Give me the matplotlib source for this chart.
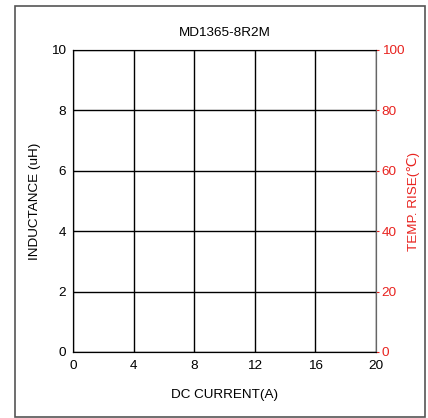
import matplotlib.pyplot as plt
from matplotlib.patches import Rectangle

plt.rcParams['font.family'] = ['Liberation Sans', 'DejaVu Sans']

title = "MD1365-8R2M"
x_ticks = [0, 4, 8, 12, 16, 20]
y_ticks = [0, 2, 4, 6, 8, 10]
temp_ticks = [0, 20, 40, 60, 80, 100]

W, H = 428, 418
fs = 9.7
fig = plt.figure(figsize=(W / 100, H / 100), dpi=100)

# outer frame
fig.patches.append(Rectangle((15 / W, 1 - 417 / H), 410 / W, 411 / H,
                             transform=fig.transFigure, fill=False,
                             edgecolor="#555555", linewidth=1.2))

ax = fig.add_axes([73 / W, 1 - 352 / H, 303 / W, 302 / H])
ax.set_xlim(0, 20)
ax.set_ylim(0, 10)
ax.set_xticks(x_ticks)
ax.set_yticks(y_ticks)
ax.grid(True, color="black", linewidth=1.0)
ax.tick_params(axis="both", length=0, labelsize=fs)
ax.tick_params(axis="x", pad=6)
ax.tick_params(axis="y", pad=5)
for s in ["left", "bottom"]:
    ax.spines[s].set_color("black")
for s in ["top", "right"]:
    ax.spines[s].set_color("#666666")
ax.set_xlabel("DC CURRENT(A)", fontsize=fs, labelpad=12)
ax.set_ylabel("INDUCTANCE (uH)", fontsize=fs, labelpad=7)
ax.set_title(title, fontsize=fs, pad=10)

ax2 = ax.twinx()
ax2.set_ylim(0, 100)
ax2.set_yticks(temp_ticks)
ax2.tick_params(axis="y", colors="#e8231f", length=2, labelsize=fs, pad=2)
ax2.spines["right"].set_color("#666666")
ax2.set_ylabel("TEMP. RISE(\u2103)", color="#e8231f", fontsize=fs, labelpad=2,
               family=['Liberation Sans', 'DejaVu Sans'])

fig.savefig("out.png", dpi=100)
